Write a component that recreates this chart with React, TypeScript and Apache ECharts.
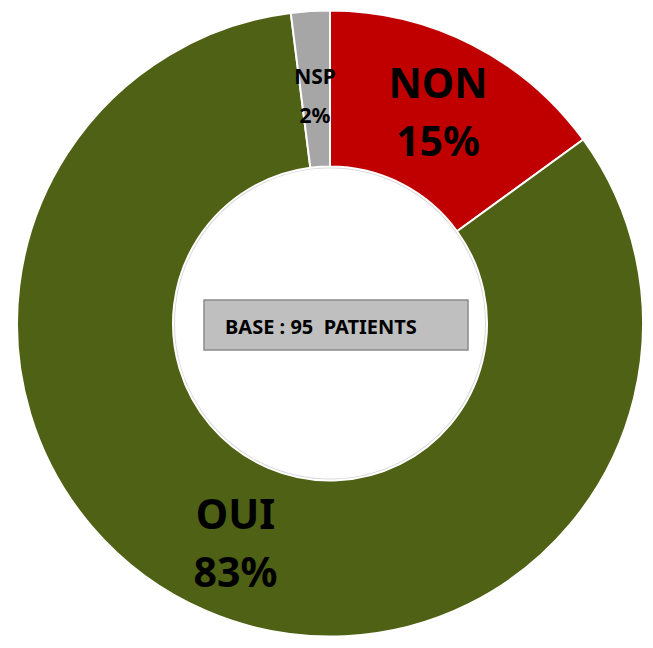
import React, { useEffect, useRef } from "react";
import * as echarts from "echarts";

const categories = ["NON", "OUI", "NSP"];
const values = [15, 83, 2];
const sliceColors = ["#C00000", "#4E6114", "#A6A6A6"];
const baseText = "BASE : 95  PATIENTS";

const FONT = '"Noto Sans", "Open Sans", sans-serif';

export default function App() {
  const ref = useRef<HTMLDivElement>(null);
  useEffect(() => {
    if (!ref.current) return;
    const chart = echarts.init(ref.current, undefined, { renderer: "svg" });
    const labelStyle: Record<string, { size: number; lh: number }> = {
      NON: { size: 41, lh: 58 },
      OUI: { size: 41, lh: 58 },
      NSP: { size: 21, lh: 39 },
    };
    const data = categories.map((c, i) => ({
      name: c,
      value: values[i],
      itemStyle: { color: sliceColors[i] },
      label: {
        fontSize: labelStyle[c].size,
        lineHeight: labelStyle[c].lh,
        offset: c === "NSP" ? [0, 10] : [0, 0],
      },
    }));
    chart.setOption({
      animation: false,
      backgroundColor: "#ffffff",
      series: [
        {
          type: "pie",
          center: [330, 323.5],
          radius: [157, 313],
          startAngle: 90,
          clockwise: true,
          avoidLabelOverlap: false,
          itemStyle: { borderColor: "#ffffff", borderWidth: 2 },
          label: {
            show: true,
            position: "inside",
            formatter: (p: any) => `${p.name}\n${Math.round(p.percent)}%`,
            color: "#000000",
            fontFamily: FONT,
            fontWeight: "bold",
            align: "center",
          },
          labelLine: { show: false },
          emphasis: { disabled: true },
          data,
        },
      ],
      graphic: [
        {
          type: "circle",
          shape: { cx: 330, cy: 323.5, r: 156 },
          style: { fill: "none", stroke: "#d9d9d9", lineWidth: 2 },
          silent: true,
        },
        {
          type: "rect",
          shape: { x: 204, y: 300, width: 264, height: 50 },
          style: { fill: "#BFBFBF", stroke: "#8C8C8C", lineWidth: 1.5 },
          silent: true,
        },
        {
          type: "text",
          x: 225,
          y: 326,
          style: {
            text: baseText,
            fill: "#000000",
            font: `bold 20px ${FONT}`,
            verticalAlign: "middle",
            align: "left",
          },
          silent: true,
        },
      ],
    });
    return () => chart.dispose();
  }, []);
  return (
    <div
      ref={ref}
      style={{ position: "fixed", left: 0, top: 0, width: 653, height: 648 }}
    />
  );
}
